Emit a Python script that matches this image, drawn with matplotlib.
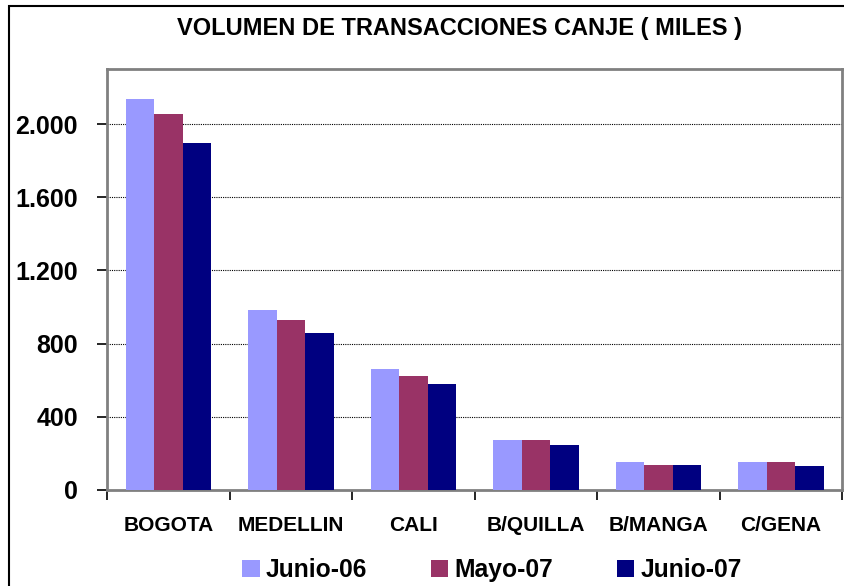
import numpy as np
import matplotlib.pyplot as plt
from matplotlib.patches import Rectangle

ciudades = ['BOGOTA', 'MEDELLIN', 'CALI', 'B/QUILLA', 'B/MANGA', 'C/GENA']
junio06 = [2137, 981, 663, 274, 153, 153]
mayo07 = [2055, 926, 625, 274, 137, 153]
junio07 = [1896, 855, 581, 247, 137, 131]
series = ['Junio-06', 'Mayo-07', 'Junio-07']
colores = ['#9999FF', '#993366', '#000080']
yticks = [0, 400, 800, 1200, 1600, 2000]

plt.rcParams['font.family'] = ['Liberation Sans', 'DejaVu Sans']
plt.rcParams['font.weight'] = 'bold'

fig = plt.figure(figsize=(8.44, 5.86), dpi=100)
ax = fig.add_axes([0.127, 0.164, 0.871, 0.718])

barWidth = 0.232
x = np.arange(len(ciudades))
for i, (vals, name, c) in enumerate(zip([junio06, mayo07, junio07], series, colores)):
    ax.bar(x + (i - 1) * barWidth, vals, width=barWidth, color=c, label=name, zorder=3)

ax.set_xlim(-0.5, len(ciudades) - 0.5)
ax.set_ylim(0, 2300)
ax.set_yticks(yticks)
ax.set_yticklabels(['{:,}'.format(v).replace(',', '.') for v in yticks], fontsize=18, fontweight='bold')
for v in yticks[1:]:
    ax.axhline(v, color='black', lw=0.8, ls=(0, (1, 1)), zorder=1)

# category labels in the middle, tick marks on the borders
ax.set_xticks(x)
ax.set_xticklabels(ciudades, fontsize=15, fontweight='bold')
ax.tick_params(axis='x', length=0, pad=19)
ax.set_xticks(np.arange(len(ciudades) + 1) - 0.5, minor=True)
ax.tick_params(axis='x', which='minor', length=7, width=1.2, color='black', direction='out')
ax.tick_params(axis='y', length=7, width=1.2, direction='out', pad=14)

for s in ['left', 'bottom', 'top', 'right']:
    ax.spines[s].set_color('#808080')
    ax.spines[s].set_linewidth(2)

fig.text(0.544, 0.951, 'VOLUMEN DE TRANSACCIONES CANJE ( MILES )', ha='center', va='center',
         fontsize=17, fontweight='bold')

fig.legend(loc='center', bbox_to_anchor=(0.583, 0.027), ncol=3, frameon=False,
           handlelength=0.7, handleheight=0.7, columnspacing=2.6, handletextpad=0.25,
           borderpad=0, prop={'weight': 'bold', 'size': 17.7})

fig.patches.append(Rectangle((0.011, -0.05), 1.1, 1.04, transform=fig.transFigure,
                             fill=False, edgecolor='black', lw=1.5))

fig.savefig('out.png', dpi=100)
